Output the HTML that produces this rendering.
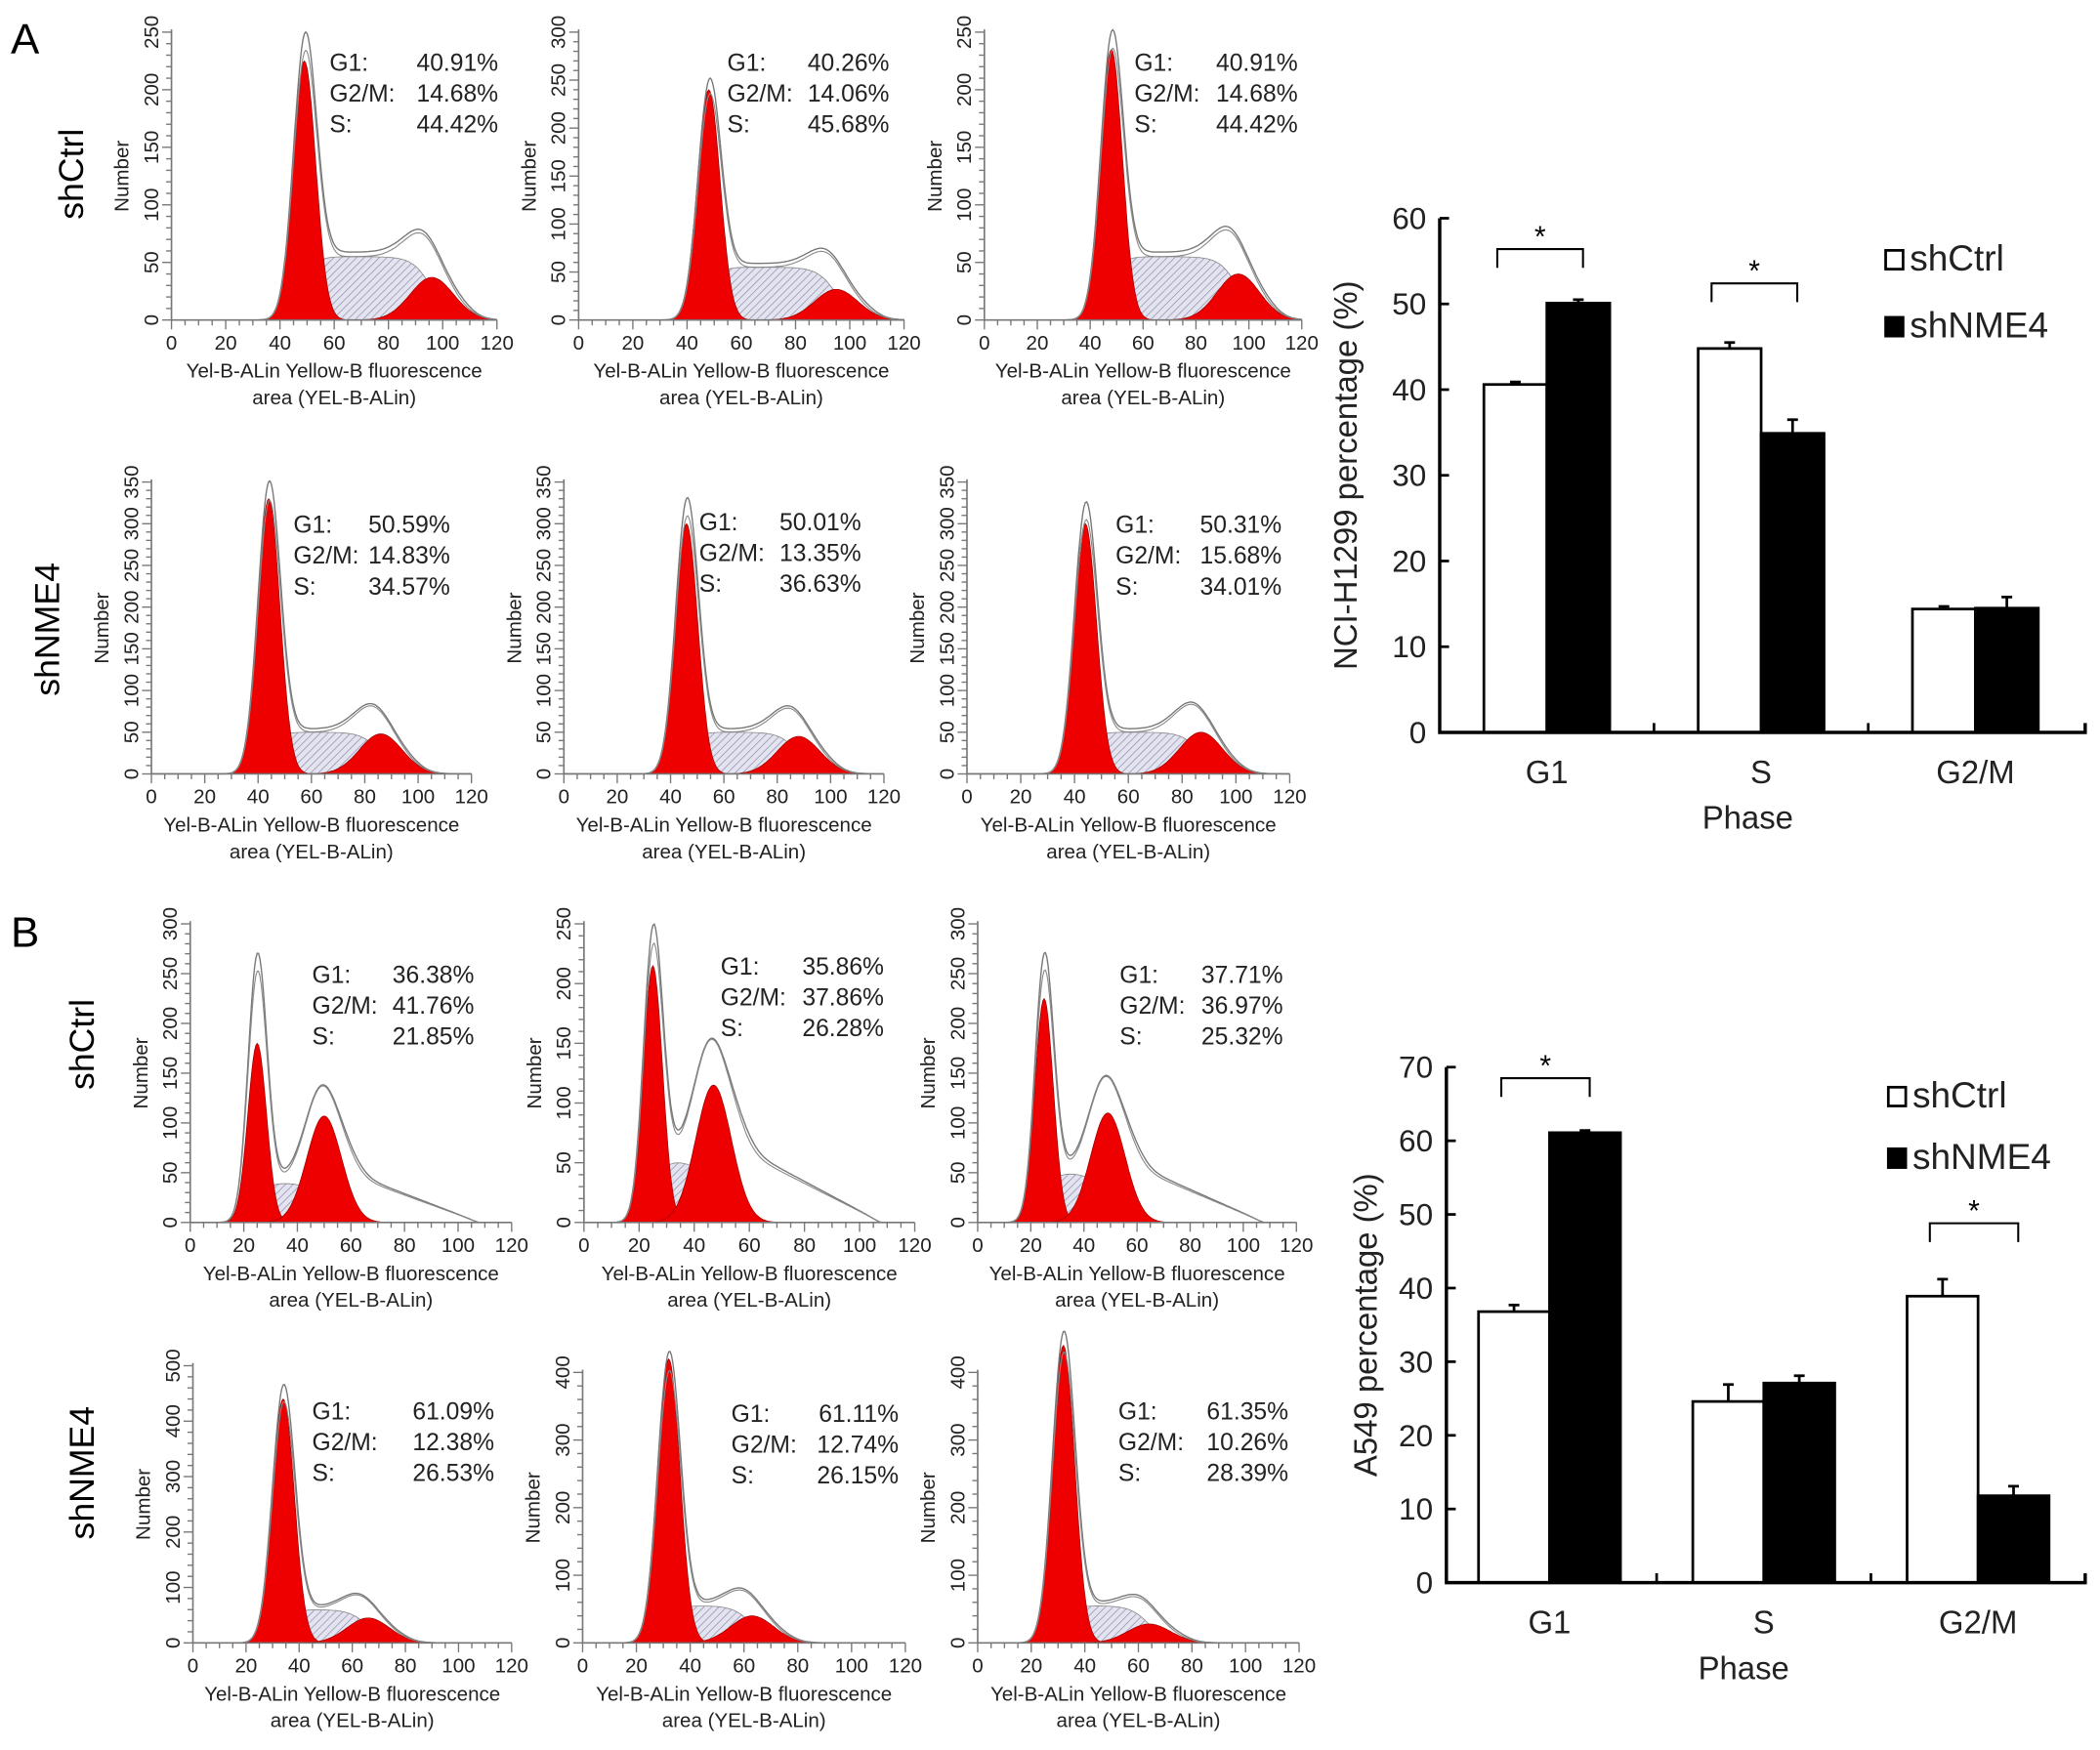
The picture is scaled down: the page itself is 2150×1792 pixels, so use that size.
<!DOCTYPE html>
<html><head><meta charset="utf-8"><style>
html,body{margin:0;padding:0;background:#fff;}
svg{display:block;font-family:"Liberation Sans",Arial,sans-serif;}
</style></head><body>
<svg id="fig" width="2150" height="1792" viewBox="0 0 1568 1307" xmlns="http://www.w3.org/2000/svg">
<defs>
<pattern id="hatch" patternUnits="userSpaceOnUse" width="4" height="4" patternTransform="rotate(45)">
<rect width="4" height="4" fill="#e4e4f0"/><line x1="0" y1="0" x2="0" y2="4" stroke="#8a8aa8" stroke-width="1"/>
</pattern>
</defs>
<text x="8" y="40" font-size="32">A</text>
<text x="8" y="707" font-size="32">B</text>
<text transform="translate(62,130) rotate(-90)" text-anchor="middle" font-size="26">shCtrl</text>
<text transform="translate(44,470) rotate(-90)" text-anchor="middle" font-size="26">shNME4</text>
<text transform="translate(70,780) rotate(-90)" text-anchor="middle" font-size="26">shCtrl</text>
<text transform="translate(70,1100) rotate(-90)" text-anchor="middle" font-size="26">shNME4</text>
</svg>
<script>
// ---- histogram data (12 panels, row-major) ----
const yMax   = [250,300,250, 350,350,350, 300,250,300, 500,400,400];
const yStep  = [50,50,50, 50,50,50, 50,50,50, 100,100,100];
const g1Pos  = [49,48,48, 44,46,44, 25,25,25, 34,32,32];
const g1H    = [225,240,235, 330,300,300, 180,215,225, 440,420,440];
const g1Env  = [248,250,250, 350,330,325, 270,248,270, 465,430,460];
const g2Pos  = [96,95,96, 86,88,87, 50,47,49, 66,63,64];
const g2H    = [37,32,40, 48,45,50, 107,115,110, 45,40,28];
const sH     = [55,55,55, 50,50,50, 40,52,50, 60,55,55];
const tailH  = [0,0,0, 0,0,0, 60,75,70, 0,0,0];
const g1Pct  = ["40.91%","40.26%","40.91%","50.59%","50.01%","50.31%","36.38%","35.86%","37.71%","61.09%","61.11%","61.35%"];
const g2Pct  = ["14.68%","14.06%","14.68%","14.83%","13.35%","15.68%","41.76%","37.86%","36.97%","12.38%","12.74%","10.26%"];
const sPct   = ["44.42%","45.68%","44.42%","34.57%","36.63%","34.01%","21.85%","26.28%","25.32%","26.53%","26.15%","28.39%"];
// layout (pixel geometry)
const L = [
 {x0:128,x1:371,top:24,base:239,sx:246,px:372,sy:53},
 {x0:432,x1:675,top:24,base:239,sx:543,px:664,sy:53},
 {x0:735,x1:972,top:24,base:239,sx:847,px:969,sy:53},
 {x0:113,x1:352,top:360,base:578,sx:219,px:336,sy:398},
 {x0:421,x1:660,top:360,base:578,sx:522,px:643,sy:396},
 {x0:722,x1:963,top:360,base:578,sx:833,px:957,sy:398},
 {x0:142,x1:382,top:690,base:913,sx:233,px:354,sy:734},
 {x0:436,x1:683,top:690,base:913,sx:538,px:660,sy:728},
 {x0:730,x1:968,top:690,base:913,sx:836,px:958,sy:734},
 {x0:144,x1:382,top:1020,base:1227,sx:233,px:369,sy:1060},
 {x0:435,x1:676,top:1025,base:1227,sx:546,px:671,sy:1062},
 {x0:730,x1:970,top:1025,base:1227,sx:835,px:962,sy:1060}
];
const NS="http://www.w3.org/2000/svg";
const svg=document.getElementById('fig');
function mk(tag,attrs,parent){const e=document.createElementNS(NS,tag);for(const k in attrs)e.setAttribute(k,attrs[k]);(parent||svg).appendChild(e);return e;}
function txt(s,attrs,parent){const e=mk('text',attrs,parent);e.textContent=s;return e;}
const sig=(z)=>1/(1+Math.exp(-z));
for(let i=0;i<12;i++){
  const l=L[i];
  const g=mk('g',{});
  
  
  const X=v=>l.x0+(v/120)*(l.x1-l.x0);
  const Y=v=>l.base-(v/yMax[i])*(l.base-l.top);
  const s1=i>=6&&i<9?3.5:4.2, s2=i>=6&&i<9?6.5:8;
  const f1=x=>g1H[i]*Math.exp(-((x-g1Pos[i])**2)/(2*s1*s1));
  const f2=x=>g2H[i]*Math.exp(-((x-g2Pos[i])**2)/(2*s2*s2));
  const fs=x=>sH[i]*sig((x-g1Pos[i])/2.2)*sig((g2Pos[i]-x)/3.5);
  const ft=x=>tailH[i]*sig((x-g2Pos[i]-6)/3)*Math.max(0,(108-x)/(108-g2Pos[i]))*sig((108-x)/1.5);
  const k=(g1Env[i]-fs(g1Pos[i]))/g1H[i];
  const xs=[];for(let x=0;x<=120;x+=0.5)xs.push(x);
  const area=(f)=>'M'+X(0)+','+Y(0)+xs.map(x=>'L'+X(x).toFixed(1)+','+Y(f(x)).toFixed(1)).join('')+'L'+X(120)+','+Y(0)+'Z';
  const line=(f)=>'M'+xs.map(x=>X(x).toFixed(1)+','+Y(f(x)).toFixed(1)).join('L');
  const sp=mk('path',{d:area(fs),fill:'url(#hatch)',stroke:'#888','stroke-width':0.6},g);
  
  const p1=mk('path',{d:area(f1),fill:'#ee0000',stroke:'#900','stroke-width':0.5},g);
  
  const p2=mk('path',{d:area(f2),fill:'#ee0000',stroke:'#900','stroke-width':0.5},g);
  
  const env=x=>f1(x)*k+f2(x)+fs(x)+ft(x)+ 4*sig((x-g1Pos[i]-4)/2)*sig((g2Pos[i]+15-x)/2);
  const e1=mk('path',{d:line(env),fill:'none',stroke:'#777','stroke-width':1},g);
  
  const env2=x=>f1(x)*(k*0.93)+f2(x)*1.03+fs(x)+ft(x)*0.95;
  const e2=mk('path',{d:line(env2),fill:'none',stroke:'#888','stroke-width':0.8},g);
  
  const ax=mk('path',{d:`M${l.x0},${l.top-2}V${l.base}H${l.x1}`,fill:'none',stroke:'#777','stroke-width':1.2},g);
  
  for(let v=0;v<=120;v+=5){const mj=v%20===0;mk('line',{x1:X(v),x2:X(v),y1:l.base,y2:l.base+(mj?7:4),stroke:'#777','stroke-width':1},g);
    if(mj){const t=txt(String(v),{x:X(v),y:l.base+22,'font-size':15,'text-anchor':'middle',fill:'#222'},g);}}
  const minor=yStep[i]/5;
  for(let v=0;v<=yMax[i]+0.01;v+=minor){const mj=Math.abs(v/yStep[i]-Math.round(v/yStep[i]))<1e-6;mk('line',{x1:l.x0,x2:l.x0-(mj?7:4),y1:Y(v),y2:Y(v),stroke:'#777','stroke-width':1},g);
    if(mj){const t=txt(String(Math.round(v)),{transform:`translate(${l.x0-10},${Y(v)}) rotate(-90)`,'font-size':15,'text-anchor':'middle',fill:'#222'},g);}}
  const yt=txt('Number',{transform:`translate(${l.x0-32},${(l.top+l.base)/2}) rotate(-90)`,'font-size':15,'text-anchor':'middle',fill:'#222'},g);
  
  const cx=(l.x0+l.x1)/2;
  const xt1=txt('Yel-B-ALin Yellow-B fluorescence',{x:cx,y:l.base+43,'font-size':15,'text-anchor':'middle',fill:'#222'},g);
  
  const xt2=txt('area (YEL-B-ALin)',{x:cx,y:l.base+63,'font-size':15,'text-anchor':'middle',fill:'#222'},g);
  
  const labs=['G1:','G2/M:','S:'],vals=[g1Pct[i],g2Pct[i],sPct[i]];
  for(let r=0;r<3;r++){
    const a=txt(labs[r],{x:l.sx,y:l.sy+r*23,'font-size':18,fill:'#222'},g);
    
    const b=txt(vals[r],{x:l.px,y:l.sy+r*23,'font-size':18,'text-anchor':'end',fill:'#222'},g);
    
  }
}
// ---- bar chart data ----
const phases=["G1","S","G2/M"];
const h1299Ctrl=[40.6,44.8,14.4], h1299Ctrl_e=[0.3,0.7,0.3];
const h1299Nme=[50.1,34.9,14.5], h1299Nme_e=[0.4,1.6,1.3];
const h1299Sig=[0,1], h1299Brk=[56.4,52.4];
const a549Ctrl=[36.8,24.6,38.9], a549Ctrl_e=[0.9,2.3,2.3];
const a549Nme=[61.1,27.1,11.8], a549Nme_e=[0.3,1.0,1.3];
const a549Sig=[0,2], a549Brk=[68.5,48.8];
const h1299Ticks=[0,10,20,30,40,50,60], a549Ticks=[0,10,20,30,40,50,60,70];
function barChart(o){
  const g=mk('g',{});
  
  
  const Y=v=>o.base-(v/o.max)*(o.base-o.top);
  const gw=o.gw;
  const bw=o.bw;
  const C=j=>o.c0+gw*j;
  o.ticks.forEach(v=>{mk('line',{x1:o.x0,x2:o.x0+7,y1:Y(v),y2:Y(v),stroke:'#000','stroke-width':2},g);
    const t=txt(String(v),{x:o.x0-10,y:Y(v)+8,'font-size':23,'text-anchor':'end',fill:'#222'},g);});
  phases.forEach((p,j)=>{
    const c=C(j);
    [[o.ctrl,o.ce,'#fff',c-bw],[o.nme,o.ne,'#000',c]].forEach(([arr,err,fill,x],s)=>{
      const v=arr[j];
      const r=mk('rect',{x:x,y:Y(v),width:bw,height:o.base-Y(v),fill:fill,stroke:'#000','stroke-width':2},g);
      
      
      const ex=x+bw/2, et=Y(v+err[j]);
      const eb=mk('path',{d:`M${ex},${Y(v)}V${et}M${ex-4},${et}H${ex+4}`,stroke:'#000','stroke-width':2,fill:'none'},g);
      
    });
    const t=txt(p,{x:c,y:o.base+38,'font-size':24,'text-anchor':'middle',fill:'#222'},g);
    
    if(j<2)mk('line',{x1:c+gw/2,x2:c+gw/2,y1:o.base,y2:o.base-7,stroke:'#000','stroke-width':2},g);
  });
  const ax=mk('path',{d:`M${o.x0},${o.top}V${o.base}H${o.x1}V${o.base-7}`,fill:'none',stroke:'#000','stroke-width':2.5},g);
  
  const px=txt('Phase',{x:o.phx,y:o.base+72,'font-size':24,'text-anchor':'middle',fill:'#222'},g);
  
  const yt=txt(o.ytitle,{transform:`translate(${o.ytx},${(o.top+o.base)/2}) rotate(-90)`,'font-size':24,'text-anchor':'middle',fill:'#222'},g);
  
  o.sig.forEach((j,n)=>{
    const c=C(j);
    const yb=Y(o.brk[n]);
    const bl=c-o.bl, br2=c+o.br;
    const br=mk('path',{d:`M${bl},${yb+14}V${yb}H${br2}V${yb+14}`,fill:'none',stroke:'#000','stroke-width':1.5},g);
    
    const st=txt('*',{x:(bl+br2)/2,y:yb-2,'font-size':22,'text-anchor':'middle',fill:'#000'},g);
    
  });
  [['shCtrl','#fff',o.ly],['shNME4','#000',o.ly+o.lgap]].forEach(([n,f,y])=>{
    const r=mk('rect',{x:o.lx,y:y-14,width:13,height:14,fill:f,stroke:'#000','stroke-width':2},g);
    
    const t=txt(n,{x:o.lx+18,y:y+1,'font-size':27,fill:'#222'},g);
    
  });
}
barChart({name:'bar-chart-nci-h1299',x0:1075,x1:1557,top:163,base:547,max:60,ticks:h1299Ticks,ctrl:h1299Ctrl,ce:h1299Ctrl_e,nme:h1299Nme,ne:h1299Nme_e,bw:47,c0:1155,gw:160,phx:1305,ytx:1013,ytitle:'NCI-H1299 percentage (%)',sig:h1299Sig,brk:h1299Brk,bl:37,br:27,lx:1408,ly:201,lgap:50});
barChart({name:'bar-chart-a549',x0:1080,x1:1557,top:797,base:1182,max:70,ticks:a549Ticks,ctrl:a549Ctrl,ce:a549Ctrl_e,nme:a549Nme,ne:a549Nme_e,bw:53,c0:1157,gw:160,phx:1302,ytx:1028,ytitle:'A549 percentage (%)',sig:a549Sig,brk:a549Brk,bl:36,br:30,lx:1410,ly:826,lgap:46});
</script>
</body></html>
